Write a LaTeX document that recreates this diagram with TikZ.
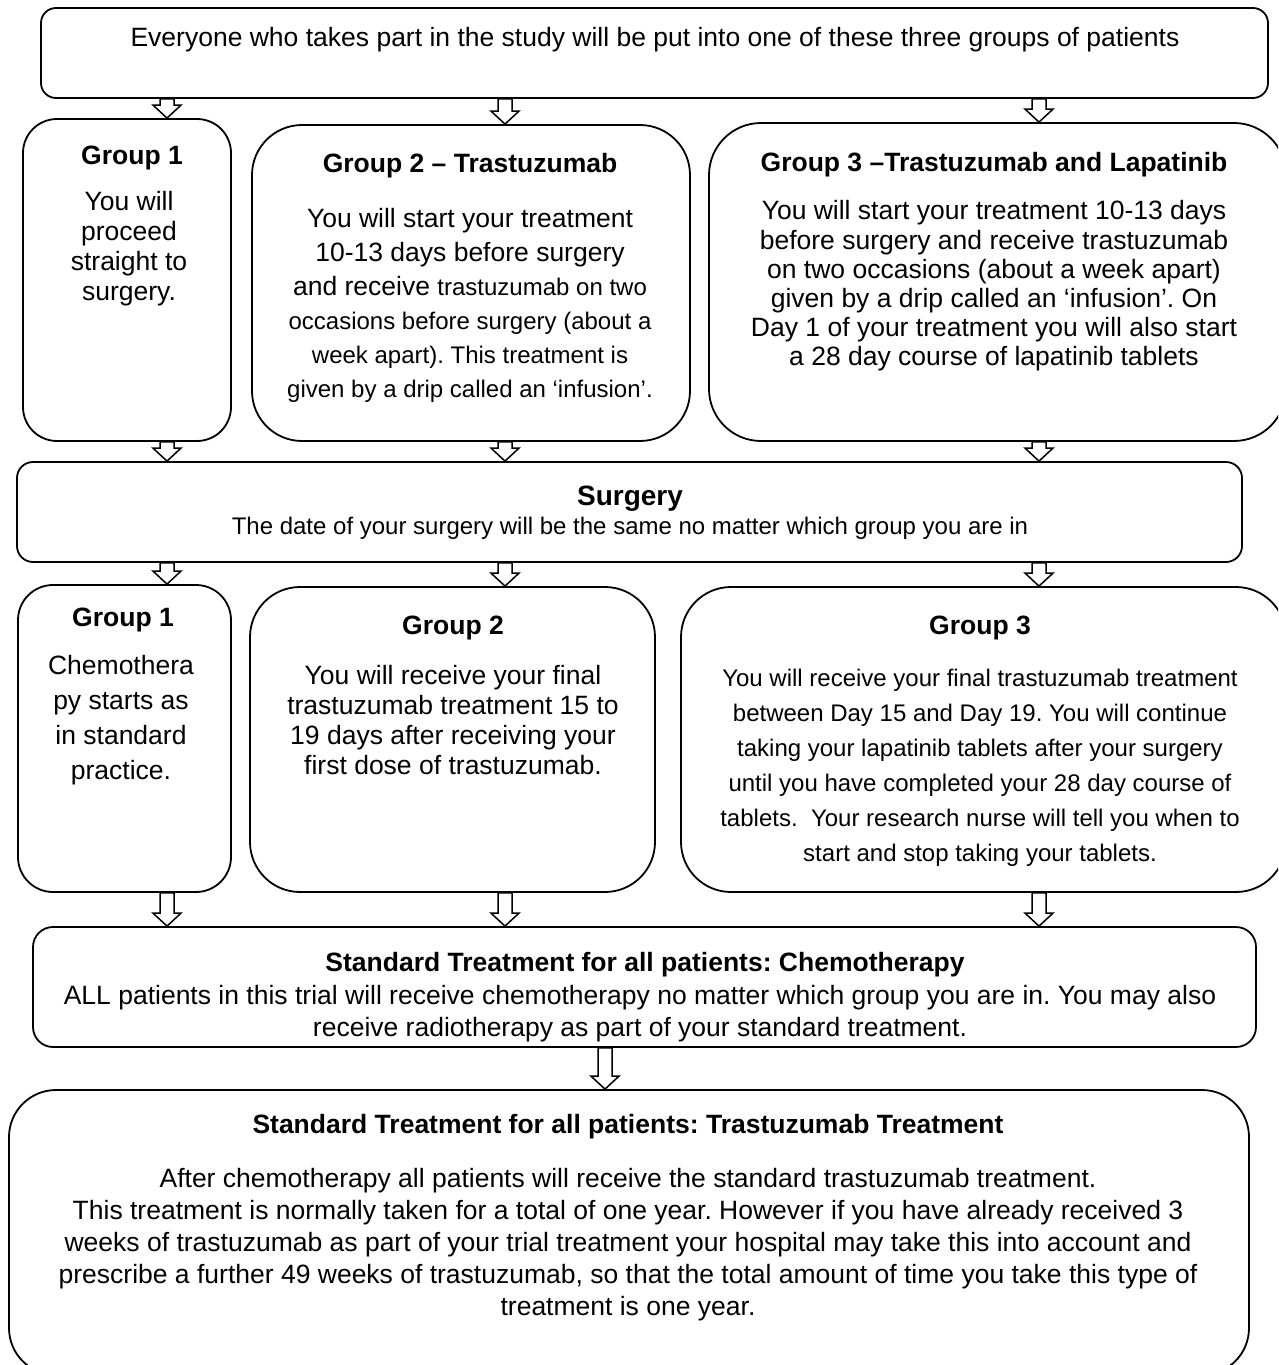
\documentclass[tikz,border=0pt]{standalone}
\usepackage{fontspec}
\setmainfont{Liberation Sans}
\usetikzlibrary{calc}
\frenchspacing

\begin{document}
\begin{tikzpicture}[x=1pt,y=-1pt,
	box/.style={draw, line width=1.8pt},
	head/.style={inner sep=0pt, font=\bfseries\fontsize{26.5}{30}\selectfont},
	txt/.style={align=center, inner sep=0pt, font=\fontsize{26.5}{#1}\selectfont},
	txt/.default=30,
	sml/.style={align=center, inner sep=0pt, font=\fontsize{24}{#1}\selectfont},
	sml/.default=35,
	flow/.style={draw, line width=1.5pt, fill=white, to path={
		($(\tikztostart)+(-7,0)$) -- ($(\tikztotarget)+(-7,-13)$) -- ($(\tikztotarget)+(-14,-13)$)
		-- (\tikztotarget) -- ($(\tikztotarget)+(14,-13)$) -- ($(\tikztotarget)+(7,-13)$)
		-- ($(\tikztostart)+(7,0)$) -- cycle}}]
	\useasboundingbox (0,0) rectangle (1278,1365);
	\clip (0,0) rectangle (1278,1365);
	%Inizio
	\node[box, minimum width=1227pt, minimum height=90pt, rounded corners=15pt] (top) at (654.5,53) {};
	\node[txt] (t0) at (655,40) {Everyone who takes part in the study will be put into one of these three groups of patients};
	%Gruppi prima dell'intervento
	\node[box, minimum width=208pt, minimum height=322pt, rounded corners=34pt] (g1a) at (127,280) {};
	\node[head] (h1a) at (132,158) {Group 1};
	\node[txt] (b1a) at (129,249) {You will\\proceed\\straight to\\surgery.};
	\node[box, minimum width=438pt, minimum height=316pt, rounded corners=50pt] (g2a) at (471,283) {};
	\node[head] (h2a) at (470,166) {Group 2 – Trastuzumab};
	\node[txt=34] (b2a) at (470,305.5) {You will start your treatment\\10-13 days before surgery\\and receive {\fontsize{24}{34}\selectfont trastuzumab on two}\\
		{\fontsize{24}{34}\selectfont occasions before surgery (about a}\\{\fontsize{24}{34}\selectfont week apart). This treatment is}\\
		{\fontsize{24}{34}\selectfont given by a drip called an ‘infusion’.}};
	\node[box, minimum width=577pt, minimum height=318pt, rounded corners=52pt] (g3a) at (997.5,282) {};
	\node[head] (h3a) at (994,165) {Group 3 –Trastuzumab and Lapatinib};
	\node[txt=29.2] (b3a) at (994,286) {You will start your treatment 10-13 days\\before surgery and receive trastuzumab\\on two occasions (about a week apart)\\given by a drip called an ‘infusion’. On\\Day 1 of your treatment you will also start\\a 28 day course of lapatinib tablets};
	%Intervento
	\node[box, minimum width=1225pt, minimum height=100pt, rounded corners=16pt] (surg) at (629.5,512) {};
	\node[head, font=\bfseries\fontsize{28}{30}\selectfont] (hs) at (630,499) {Surgery};
	\node[sml] (bs) at (630,528) {The date of your surgery will be the same no matter which group you are in};
	%Gruppi dopo l'intervento
	\node[box, minimum width=213pt, minimum height=307pt, rounded corners=35pt] (g1b) at (124.5,738.5) {};
	\node[head] (h1b) at (123,620) {Group 1};
	\node[txt=35] (b1b) at (121,720) {Chemothera\\py starts as\\in standard\\practice.};
	\node[box, minimum width=405pt, minimum height=305pt, rounded corners=50pt] (g2b) at (452.5,739.5) {};
	\node[head] (h2b) at (453,628) {Group 2};
	\node[txt] (b2b) at (453,720.5) {You will receive your final\\trastuzumab treatment 15 to\\19 days after receiving your\\first dose of trastuzumab.};
	\node[box, minimum width=605pt, minimum height=305pt, rounded corners=50pt] (g3b) at (983.5,739.5) {};
	\node[head] (h3b) at (980,628) {Group 3};
	\node[sml] (b3b) at (980,767.5) {You will receive your final trastuzumab treatment\\between Day 15 and Day 19. You will continue\\taking your lapatinib tablets after your surgery\\until you have completed your 28 day course of\\tablets.\ \ Your research nurse will tell you when to\\start and stop taking your tablets.};
	%Chemioterapia
	\node[box, minimum width=1223pt, minimum height=120pt, rounded corners=20pt] (chemo) at (644.5,987) {};
	\node[head] (hc) at (645,965) {Standard Treatment for all patients: Chemotherapy};
	\node[txt=32] (bc) at (640,1014) {ALL patients in this trial will receive chemotherapy no matter which group you are in. You may also\\receive radiotherapy as part of your standard treatment.};
	%Trastuzumab
	\node[box, minimum width=1240pt, minimum height=285pt, rounded corners=47pt] (final) at (629,1232.5) {};
	\node[head] (hf) at (628,1127) {Standard Treatment for all patients: Trastuzumab Treatment};
	\node[txt=32] (bf) at (628,1245) {After chemotherapy all patients will receive the standard trastuzumab treatment.\\This treatment is normally taken for a total of one year. However if you have already received 3\\weeks of trastuzumab as part of your trial treatment your hospital may take this into account and\\prescribe a further 49 weeks of trastuzumab, so that the total amount of time you take this type of\\treatment is one year.};
	%Frecce
	\coordinate (c1) at (167,0);
	\coordinate (c2) at (505,0);
	\coordinate (c3) at (1039,0);
	\coordinate (c4) at (605,0);
	\draw[flow] (top.south -| c1) to (g1a.north -| c1);
	\draw[flow] (top.south -| c2) to (g2a.north -| c2);
	\draw[flow] (top.south -| c3) to (g3a.north -| c3);
	\draw[flow] (g1a.south -| c1) to (surg.north -| c1);
	\draw[flow] (g2a.south -| c2) to (surg.north -| c2);
	\draw[flow] (g3a.south -| c3) to (surg.north -| c3);
	\draw[flow] (surg.south -| c1) to (g1b.north -| c1);
	\draw[flow] (surg.south -| c2) to (g2b.north -| c2);
	\draw[flow] (surg.south -| c3) to (g3b.north -| c3);
	\draw[flow] (g1b.south -| c1) to (chemo.north -| c1);
	\draw[flow] (g2b.south -| c2) to (chemo.north -| c2);
	\draw[flow] (g3b.south -| c3) to (chemo.north -| c3);
	\draw[flow] (chemo.south -| c4) to (final.north -| c4);
\end{tikzpicture}
\end{document}
